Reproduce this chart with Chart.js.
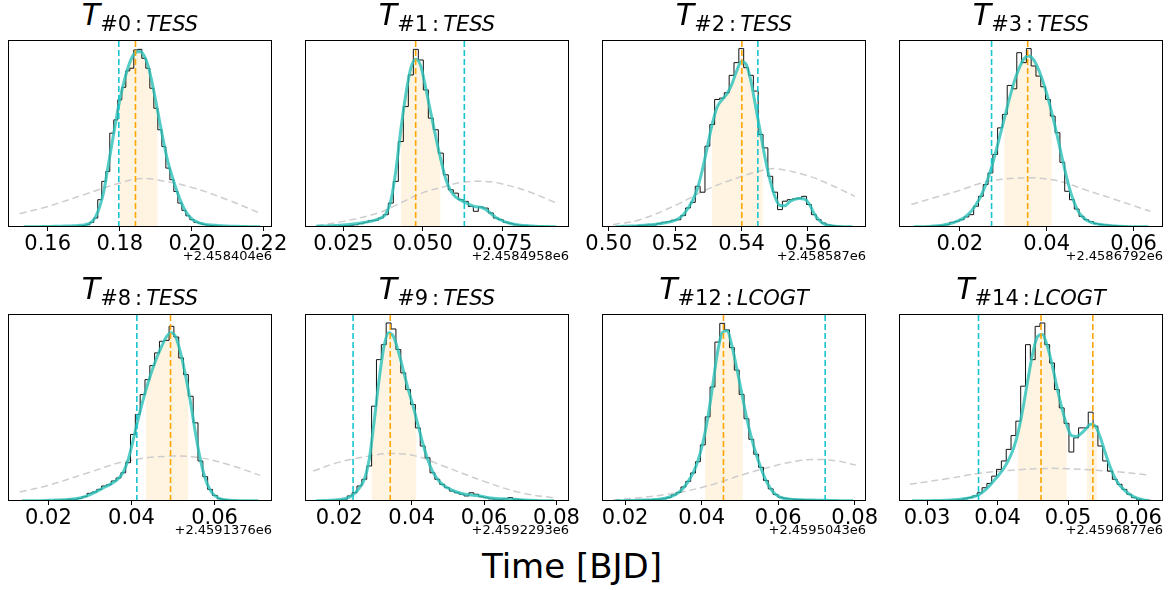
<!DOCTYPE html>
<html>
<head>
<meta charset="utf-8">
<script src="https://cdn.jsdelivr.net/npm/chart.js@4.4.0/dist/chart.umd.min.js"></script>
<style>
  body { margin: 0; background: #fff; width: 1169px; height: 590px; overflow: hidden; position: relative; font-family: 'DejaVu Sans', sans-serif; }
  canvas { position: absolute; }
  .ttl { position: absolute; text-align: center; font-size: 30px; line-height: 30px; white-space: nowrap; color: #000; }
  .ttl .t { font-style: italic; }
  .ttl .s { font-size: 21px; position: relative; top: 6px; }
  .ttl .c { margin: 0 4px; }
  .off { position: absolute; font-size: 13px; line-height: 13px; text-align: right; white-space: nowrap; color: #000; }
  #xlabel { position: absolute; left: 0; width: 1144px; top: 549px; text-align: center; font-size: 34px; line-height: 34px; color: #000; }
</style>
</head>
<body>
<div id="xlabel">Time [BJD]</div>
<script>
// panel labels
const transitIds = ["#0", "#1", "#2", "#3", "#8", "#9", "#12", "#14"];
const instruments = ["TESS", "TESS", "TESS", "TESS", "TESS", "TESS", "LCOGT", "LCOGT"];
const offsetLabels = ["+2.458404e6", "+2.4584958e6", "+2.458587e6", "+2.4586792e6",
                      "+2.4591376e6", "+2.4592293e6", "+2.4595043e6", "+2.4596877e6"];

// x axes
const xMin = [0.14898, 0.012946, 0.49799, 0.0060, 0.010281, 0.010549, 0.013967, 0.026018];
const xMax = [0.22223, 0.095963, 0.57749, 0.066767, 0.073814, 0.083451, 0.08295, 0.063464];
const xTicks = [
  [0.16, 0.18, 0.20, 0.22],
  [0.025, 0.050, 0.075],
  [0.50, 0.52, 0.54, 0.56],
  [0.02, 0.04, 0.06],
  [0.02, 0.04, 0.06],
  [0.02, 0.04, 0.06, 0.08],
  [0.02, 0.04, 0.06, 0.08],
  [0.03, 0.04, 0.05, 0.06]
];
const tickDecimals = [2, 3, 2, 2, 2, 2, 2, 2];

// histogram bins (first edge, width); heights in % of panel height
const binStart = [0.15278, 0.015566, 0.501307, 0.008847, 0.013092, 0.012815, 0.016853, 0.027535];
const binWidth = [0.001111, 0.0015723, 0.0014573, 0.001103, 0.0011598, 0.0013437, 0.0012677, 0.00068446];

const hist0 = [0, 0, 0, 0.1, 0.1, 0.1, 0.1, 0.2, 0.2, 0.2, 0.3, 0.3, 0.4, 0.5, 0.6, 0.8,
  1.2, 2.5, 4.8, 14.6, 24.4, 29.7, 50.2, 57.3, 68, 74.7, 83.5, 84.9, 94.7, 95,
  90.2, 84.9, 74.2, 63.5, 52, 43, 31.5, 25.3, 19, 12.8, 8.9, 6, 3.9, 2.5, 2.1, 1.4,
  1.0, 0.8, 0.6, 0.5, 0.4, 0.3, 0.3, 0.2, 0.2, 0.1, 0.1, 0.1, 0, 0];
const hist1 = [0, 0.2, 0.2, 0.4, 0.4, 0.5, 0.7, 0.9, 1.2, 1.8,
  2.5, 3.4, 3.6, 4.8, 6.6, 12.8, 24.4, 45.7, 64.4, 81.3,
  95, 89.3, 73.3, 58.2, 52, 39.5, 27.9, 19.9, 18.1, 14.6,
  13.7, 11, 8.4, 10.7, 10.1, 7.5, 4.8, 3.9, 2.5, 1.8,
  1.2, 0.9, 0.7, 0.5, 0.4, 0.4, 0.2, 0.2, 0.2];
const hist2 = [0.2, 0.2, 0.3, 0.3, 0.5, 0.7, 0.9, 1.1, 1.1, 1.8,
  2.5, 2.9, 3.6, 3.9, 6.1, 10.2, 13.2, 21.8, 18.6, 43.2,
  54.8, 68.2, 68.9, 71.8, 81.1, 87.9, 95.4, 85.2, 81.1, 72.7,
  49.5, 42.3, 27.1, 18.6, 9.3, 13.8, 14.6, 15, 15.4, 16.4,
  12, 6.6, 3.9, 2.1, 1.1, 0.7, 0.4, 0.2, 0.1, 0.1];
const hist3 = [0.1, 0.1, 0.2, 0.3, 0.4, 0.6, 0.9,
  1.2, 2.5, 3, 3.9, 5.4, 6.6, 11.1, 16.4, 22.7, 28.9, 38.8, 53, 60.2,
  75.7, 73.9, 93.2, 87.9, 95.4, 86.1, 80.7, 75, 68.2, 59.3,
  50.4, 34.6, 19.1, 14.6, 9.6, 5.7, 3.9, 2.9, 1.8, 1.4,
  1.1, 0.9, 0.7, 0.5, 0.4, 0.3, 0.3, 0.2, 0.1, 0.1];
const hist4 = [0, 0, 0, 0.1, 0.1, 0.2, 0.3, 0.4, 0.5, 0.6,
  0.9, 0.9, 1.4, 2.3, 4.1, 4.8, 6.2, 8, 8.7, 10.7,
  12.3, 15.1, 20.5, 35.6, 46.3, 56.9, 64.9, 72.4, 79.2, 85.4,
  85.9, 93.4, 87.7, 76.5, 67.6, 56, 41.8, 21.4, 13, 6.2,
  3, 1.2, 0.7, 0.5, 0.4, 0.3, 0.2, 0.2, 0.1, 0.1];
const hist5 = [0.1, 0.2, 0.2, 0.3, 0.4, 0.5, 0.9, 2.7, 4.4, 8,
  11.6, 18.7, 50.7, 75.6, 83.6, 95.2, 92, 81, 68.5, 59.6,
  51.6, 39.1, 29.4, 23.1, 15.1, 11.6, 8.9, 7.1, 5.3, 4.4,
  3.6, 2.7, 4.4, 3.6, 2.3, 1.8, 1.2, 0.9, 0.9, 1.2,
  1.8, 0.9, 0.7, 0.5, 0.4, 0.4, 0.3, 0.2, 0.2, 0.1];
const hist6 = [0.1, 0.2, 0.3, 0.3, 0.4, 0.5, 0.6, 0.7, 0.7, 0.9,
  1.2, 1.8, 3.2, 4.6, 7.5, 10.5, 15, 21, 30, 45,
  61, 85, 95, 91.5, 82, 70, 57, 44, 33, 25,
  18, 11, 6.5, 3.5, 2, 1.4, 1.1, 0.9, 0.8, 0.7,
  0.6, 0.5, 0.5, 0.4, 0.4, 0.3, 0.3, 0.2, 0.2, 0.1];
const hist7 = [0.1, 0.1, 0.1, 0.2, 0.2, 0.2, 0.3, 0.3, 0.4, 0.5, 0.6,
  1.2, 1.8, 2.7, 4.4, 7.1, 9.4, 13.3, 16.9, 21.4, 27.6,
  35, 42.7, 61.4, 83.6, 75.6, 93.4, 95.2, 83.6, 73.8, 59.6,
  49.8, 41.5, 26.2, 33.8, 39.1, 39.1, 47.5, 40, 29.4, 21.4,
  16, 11.6, 8.9, 6.2, 3.6, 1.8, 0.9, 0.5, 0.4];

// smoothed density at the bin centres
const kde0 = [0.1, 0.1, 0.2, 0.2, 0.2, 0.3, 0.3, 0.3, 0.4, 0.4,
  0.5, 0.5, 0.6, 0.7, 0.9, 1.1, 1.6, 2.8, 5.7, 11,
  19, 31.5, 44, 56.4, 68, 77.2, 84.9, 90.5, 93.3, 93.8,
  91.8, 86.7, 77.8, 67.1, 55.9, 44.8, 35, 27.6, 20.8, 14.9,
  10.1, 6.6, 4.3, 3, 2.1, 1.6, 1.2, 1.1, 0.9, 0.7,
  0.6, 0.5, 0.4, 0.4, 0.3, 0.3, 0.2, 0.2, 0.1, 0.1];
const kde1 = [0.4, 0.5, 0.6, 0.7, 0.8, 1.0, 1.2, 1.5, 1.8, 2.1,
  2.6, 3.1, 3.8, 4.8, 7, 14, 30, 52, 71, 85,
  89.7, 86, 74, 61, 48, 36, 25.5, 19.2, 16, 14.4,
  13, 11.7, 10.8, 10.6, 9.4, 7.2, 5.1, 3.8, 2.6, 1.9,
  1.4, 1.0, 0.8, 0.6, 0.4, 0.3, 0.3, 0.2, 0.2];
const kde2 = [0.2, 0.3, 0.4, 0.5, 0.6, 0.8, 1.0, 1.2, 1.4, 1.7,
  2.1, 2.6, 3.3, 4.4, 6.5, 10, 14.5, 21, 31, 43,
  55, 64, 68, 71, 76, 83, 88.5, 87, 78, 64,
  50, 36, 24.5, 16, 11.5, 11.3, 13.5, 14.8, 15.2, 15,
  12.5, 7.5, 3.9, 1.8, 0.9, 0.5, 0.3, 0.2, 0.1, 0.1];
const kde3 = [0.1, 0.2, 0.2, 0.3, 0.5, 0.7, 1.0, 1.5, 2.1, 3,
  4.2, 6, 8.5, 12, 16.5, 22.5, 30, 39, 49, 59,
  69, 78, 85, 90, 91.5, 89.5, 84.5, 77.5, 69, 59,
  48, 36.5, 25.5, 16.5, 10, 6, 3.8, 2.5, 1.8, 1.3,
  1.0, 0.7, 0.5, 0.4, 0.3, 0.2, 0.2, 0.1, 0.1, 0.1];
const kde4 = [0.1, 0.1, 0.1, 0.2, 0.2, 0.3, 0.4, 0.5, 0.6, 0.7,
  0.9, 1.2, 1.6, 2.3, 3.3, 4.5, 5.8, 7.2, 8.5, 10,
  12, 15.5, 22, 32, 43, 53, 62, 70, 77, 83,
  88, 90, 87, 78, 66, 52, 36, 22, 12, 6,
  2.8, 1.3, 0.7, 0.4, 0.3, 0.2, 0.2, 0.1, 0.1, 0.1];
const kde5 = [0.2, 0.2, 0.3, 0.4, 0.6, 0.8, 1.2, 2.2, 4, 7,
  11.5, 22, 42, 64, 82, 90, 88, 80, 70, 60,
  51, 41, 31, 22.5, 16, 11.8, 9, 7.2, 5.8, 4.8,
  4, 3.5, 3.2, 2.9, 2.5, 2, 1.6, 1.3, 1.2, 1.1,
  1.0, 0.9, 0.7, 0.5, 0.4, 0.3, 0.2, 0.2, 0.1, 0.1];
const kde6 = [0.1, 0.1, 0.2, 0.3, 0.3, 0.4, 0.5, 0.6, 0.8, 1.0,
  1.3, 2.0, 3.0, 4.5, 7, 10.5, 15, 21.5, 31, 44,
  61, 79, 90, 91, 83, 71, 58, 45, 34, 25,
  17.5, 11, 6.5, 3.5, 2, 1.3, 1.0, 0.8, 0.7, 0.6,
  0.5, 0.5, 0.4, 0.4, 0.3, 0.3, 0.2, 0.2, 0.1, 0.1];
const kde7 = [0.1, 0.1, 0.1, 0.2, 0.2, 0.3, 0.3, 0.4, 0.5, 0.7,
  0.9, 1.3, 1.8, 2.5, 3.6, 5.5, 8, 11, 14, 17.5,
  22, 28, 37, 50, 65, 79, 88, 89, 83, 73,
  61, 50, 41, 35, 34.5, 36, 38.5, 41, 40, 34,
  26, 18.5, 12.5, 8.5, 5.8, 3.7, 2.2, 1.2, 0.6, 0.3];

// prior curves [x, height]
const prior0 = [[0.15222, 7.1], [0.16, 11], [0.17, 17.3], [0.18, 23.5], [0.185, 25.8], [0.18991, 25.3], [0.19991, 21.2], [0.20982, 14.6], [0.2188, 7.5]];
const prior1 = [[0.016614, 0.7], [0.025, 3], [0.036006, 7.5], [0.041247, 11.4], [0.049633, 18.1], [0.05697, 21.7], [0.062211, 23.8], [0.069549, 24.4], [0.07479, 23.1], [0.083175, 19], [0.092085, 12.8]];
const prior2 = [[0.50131, 1.2], [0.50935, 3.9], [0.5206, 12], [0.52945, 20], [0.5402, 27.1], [0.54653, 30.4], [0.55055, 31.1], [0.5598, 27.5], [0.56663, 22.7], [0.57417, 16.4]];
const prior3 = [[0.008847, 12], [0.013846, 15.5], [0.02, 19.6], [0.023846, 22.7], [0.027692, 25], [0.035615, 26.3], [0.04, 25.7], [0.043845, 23.9], [0.04923, 19.6], [0.055383, 15], [0.06, 11.4], [0.063844, 8.4]];
const prior4 = [[0.013092, 4.8], [0.02, 8.4], [0.029156, 14.8], [0.038956, 21.4], [0.049317, 24], [0.056465, 23.1], [0.064497, 18.7], [0.070923, 13.7]];
const prior5 = [[0.012815, 16], [0.02, 20.8], [0.028211, 24], [0.03409, 25.4], [0.041275, 24], [0.04874, 18.7], [0.06059, 10.1], [0.070201, 4.4], [0.08, 1.5]];
const prior6 = [[0.016853, 0.5], [0.023847, 1.8], [0.033639, 4.4], [0.040896, 7.7], [0.045704, 10.7], [0.05095, 14.2], [0.058819, 18.7], [0.06494, 21.4], [0.070185, 22.2], [0.07543, 21.4], [0.080239, 19.2]];
const prior7 = [[0.027535, 8.9], [0.032749, 11.9], [0.037489, 14.8], [0.042229, 16.5], [0.046969, 17.4], [0.049813, 17.3], [0.053605, 16.5], [0.057397, 15.5], [0.061426, 13.9]];

// reference (cyan) and median (orange) times, credible intervals
const refLine = [0.17972, 0.06305, 0.54492, 0.027307, 0.041285, 0.023826, 0.072283, 0.0373];
const medianLines = [[0.18435], [0.047746], [0.5401], [0.035615], [0.049397], [0.03409], [0.045704], [0.046163, 0.05351]];
const credible = [
  [[0.18, 0.19047]],
  [[0.043134, 0.055503]],
  [[0.53116, 0.54633]],
  [[0.03023, 0.041153]],
  [[0.043453, 0.053654]],
  [[0.028958, 0.041275]],
  [[0.040896, 0.050775]],
  [[0.042845, 0.049813], [0.052657, 0.054079]]
];

const hists = [hist0, hist1, hist2, hist3, hist4, hist5, hist6, hist7];
const kdes = [kde0, kde1, kde2, kde3, kde4, kde5, kde6, kde7];
const priors = [prior0, prior1, prior2, prior3, prior4, prior5, prior6, prior7];

// layout
const PAD = 38, TOP = 5, AXIS_H = 34, W = 264, H = 187;
const plotLeft = [8, 305, 602, 899, 8, 305, 602, 899];
const plotTop = [40, 40, 40, 40, 314, 314, 314, 314];

Chart.defaults.font.family = "'DejaVu Sans', sans-serif";

const framePlugin = {
  id: "frame",
  afterDatasetsDraw(chart) {
    const { ctx, chartArea: a } = chart;
    ctx.save();
    ctx.strokeStyle = "#000";
    ctx.lineWidth = 1;
    ctx.strokeRect(a.left + 0.5, a.top + 0.5, a.right - a.left - 1, a.bottom - a.top - 1);
    ctx.restore();
  },
};

function shadePlugin(ranges, kdeIndex) {
  return {
    id: "shade",
    beforeDatasetsDraw(chart) {
      const meta = chart.getDatasetMeta(kdeIndex);
      const line = meta.dataset;
      if (!line) return;
      const { ctx, chartArea: a, scales: { x, y } } = chart;
      if (line.updateControlPoints) line.updateControlPoints(a, "x");
      ctx.save();
      ctx.beginPath();
      ranges.forEach(([lo, hi]) => {
        const x0 = x.getPixelForValue(lo);
        const x1 = x.getPixelForValue(hi);
        ctx.rect(x0, a.top, x1 - x0, a.bottom - a.top);
      });
      ctx.clip();
      ctx.beginPath();
      line.path(ctx);
      const pts = meta.data;
      const y0 = y.getPixelForValue(0);
      ctx.lineTo(pts[pts.length - 1].x, y0);
      ctx.lineTo(pts[0].x, y0);
      ctx.closePath();
      ctx.fillStyle = "#fff4e2";
      ctx.fill();
      ctx.restore();
    },
  };
}

function vline(v, color) {
  return {
    data: [{ x: v, y: 0 }, { x: v, y: 100 }],
    borderColor: color,
    borderWidth: 1.6,
    borderDash: [6, 3],
    pointRadius: 0,
  };
}

hists.forEach((hist, i) => {
  const start = binStart[i], width = binWidth[i];
  const histPts = [{ x: start, y: 0 }]
    .concat(hist.map((h, k) => ({ x: start + k * width, y: h })))
    .concat([{ x: start + hist.length * width, y: 0 }]);
  const kdePts = kdes[i].map((v, k) => ({ x: start + (k + 0.5) * width, y: v }));
  const priorPts = priors[i].map(([x, y]) => ({ x, y }));

  const datasets = medianLines[i].map((v) => vline(v, "#ffa500"));
  datasets.push(vline(refLine[i], "#17c5cf"));
  const kdeIndex = datasets.length;
  datasets.push({
    data: kdePts, borderColor: "rgba(40,192,184,0.8)", borderWidth: 3,
    pointRadius: 0, cubicInterpolationMode: "monotone",
  });
  datasets.push({ data: histPts, borderColor: "#111", borderWidth: 1, stepped: true, pointRadius: 0 });
  datasets.push({
    data: priorPts, borderColor: "#cdcdcd", borderWidth: 1.5, borderDash: [7, 4],
    tension: 0.4, pointRadius: 0,
  });

  const cv = document.createElement("canvas");
  cv.width = W + 2 * PAD;
  cv.height = TOP + H + AXIS_H;
  cv.style.left = plotLeft[i] - PAD + "px";
  cv.style.top = plotTop[i] - TOP + "px";
  document.body.appendChild(cv);

  const ticks = xTicks[i], dec = tickDecimals[i];
  new Chart(cv, {
    type: "line",
    data: { datasets },
    options: {
      responsive: false,
      animation: false,
      events: [],
      layout: { padding: { left: PAD, right: PAD, top: TOP, bottom: 0 } },
      plugins: { legend: { display: false }, tooltip: { enabled: false } },
      scales: {
        x: {
          type: "linear",
          min: xMin[i],
          max: xMax[i],
          afterFit: (s) => { s.height = AXIS_H; },
          afterBuildTicks: (s) => { s.ticks = ticks.map((v) => ({ value: v })); },
          ticks: {
            autoSkip: false, maxRotation: 0, padding: 1, color: "#000",
            font: { size: 21 },
            callback: (v) => Number(v).toFixed(dec),
          },
          grid: { drawOnChartArea: false, tickLength: 4, color: "#000" },
          border: { display: false },
        },
        y: { display: false, min: 0, max: 100 },
      },
    },
    plugins: [shadePlugin(credible[i], kdeIndex), framePlugin],
  });

  const t = document.createElement("div");
  t.className = "ttl";
  t.style.left = plotLeft[i] + "px";
  t.style.width = W + "px";
  t.style.top = plotTop[i] - 40 + "px";
  t.innerHTML = '<span class="t">T</span><span class="s">' + transitIds[i] +
    '<span class="c">:</span><i>' + instruments[i] + "</i></span>";
  document.body.appendChild(t);

  const o = document.createElement("div");
  o.className = "off";
  o.style.left = plotLeft[i] + "px";
  o.style.width = W + "px";
  o.style.top = plotTop[i] + H + 22 + "px";
  o.textContent = offsetLabels[i];
  document.body.appendChild(o);
});
</script>
</body>
</html>
